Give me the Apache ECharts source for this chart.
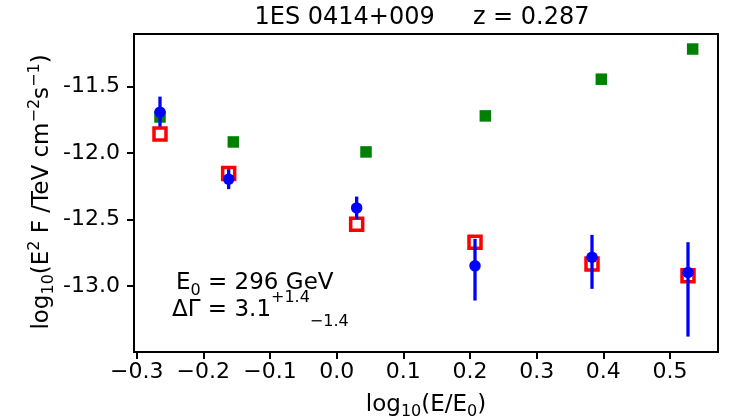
<!DOCTYPE html>
<html>
<head>
<meta charset="utf-8">
<script src="https://cdn.jsdelivr.net/npm/echarts@6/dist/echarts.min.js"></script>
<style>html,body{margin:0;padding:0;background:#fff}#c{width:729px;height:418px}</style>
</head>
<body>
<div id="c"></div>
<script>
// ---- data ----
var xTicks = [-0.3, -0.2, -0.1, 0.0, 0.1, 0.2, 0.3, 0.4, 0.5];
var yTicks = [-13.0, -12.5, -12.0, -11.5];
var blueX = [-0.265, -0.162, 0.030, 0.2075, 0.383, 0.527];
var blueY = [-11.692, -12.196, -12.412, -12.848, -12.783, -12.898];
var blueErrUp = [0.117, 0.075, 0.085, 0.203, 0.168, 0.228];
var blueErrDown = [0.108, 0.075, 0.085, 0.261, 0.238, 0.482];
var redX = [-0.265, -0.162, 0.030, 0.2075, 0.383, 0.527];
var redY = [-11.856, -12.154, -12.536, -12.670, -12.835, -12.923];
var greenX = [-0.265, -0.155, 0.044, 0.223, 0.397, 0.534];
var greenY = [-11.728, -11.916, -11.991, -11.720, -11.444, -11.217];

var FONT = 'DejaVu Sans';
function zip(a, b) { return a.map(function (v, i) { return [v, b[i]]; }); }
var errData = blueX.map(function (x, i) { return [x, blueY[i] - blueErrDown[i], blueY[i] + blueErrUp[i]]; });

var chart = echarts.init(document.getElementById('c'), null, { renderer: 'canvas' });
function rich(fs, lh, sfs, supLh, subLh) {
  return {
    m: { fontFamily: FONT, fontSize: fs, lineHeight: lh, verticalAlign: 'middle', color: '#000' },
    sub: { fontFamily: FONT, fontSize: sfs, lineHeight: subLh || sfs, verticalAlign: 'bottom', color: '#000' },
    sup: { fontFamily: FONT, fontSize: sfs, lineHeight: supLh || sfs, verticalAlign: 'top', color: '#000' }
  };
}
chart.setOption({
  animation: false,
  backgroundColor: '#fff',
  grid: { left: 134, top: 34, right: 11, bottom: 66, show: true, borderColor: '#000', borderWidth: 2, backgroundColor: 'transparent' },
  xAxis: {
    type: 'value', min: -0.304, max: 0.572,
    splitLine: { show: false },
    axisLine: { show: true, onZero: false, lineStyle: { color: '#000', width: 2 } },
    axisTick: { show: true, inside: false, length: 7, lineStyle: { color: '#000', width: 2 }, customValues: xTicks },
    axisLabel: {
      customValues: xTicks, margin: 9, color: '#000', fontFamily: FONT, fontSize: 22,
      formatter: function (v) { return v.toFixed(1).replace('-', '\u2212'); }
    }
  },
  yAxis: {
    type: 'value', min: -13.496, max: -11.104,
    splitLine: { show: false },
    axisLine: { show: true, onZero: false, lineStyle: { color: '#000', width: 2 } },
    axisTick: { show: true, inside: false, length: 7, lineStyle: { color: '#000', width: 2 }, customValues: yTicks },
    axisLabel: {
      customValues: yTicks, margin: 14, color: '#000', fontFamily: FONT, fontSize: 22,
      formatter: function (v) { return v.toFixed(1); }
    }
  },
  series: [
    {
      type: 'scatter', name: 'green', data: zip(greenX, greenY), symbol: 'rect', symbolSize: 11.5,
      itemStyle: { color: '#008000', opacity: 1 }, z: 2
    },
    {
      type: 'scatter', name: 'red', data: zip(redX, redY), symbol: 'rect', symbolSize: 12,
      itemStyle: { color: 'rgba(0,0,0,0)', borderColor: '#ff0000', borderWidth: 3.5, opacity: 1 }, z: 3
    },
    {
      type: 'custom', name: 'err', data: errData, z: 4,
      renderItem: function (params, api) {
        var p1 = api.coord([api.value(0), api.value(1)]);
        var p2 = api.coord([api.value(0), api.value(2)]);
        return { type: 'line', shape: { x1: p1[0], y1: p1[1], x2: p2[0], y2: p2[1] }, style: { stroke: '#0000ff', lineWidth: 3.3 } };
      }
    },
    {
      type: 'scatter', name: 'blue', data: zip(blueX, blueY), symbol: 'circle', symbolSize: 11.5,
      itemStyle: { color: '#0000ff', opacity: 1 }, z: 5
    }
  ],
  graphic: [
    { type: 'text', x: 422, y: 18, style: { text: '1ES 0414+009     z = 0.287', fontFamily: FONT, fontSize: 24, fill: '#000', align: 'center', verticalAlign: 'middle' } },
    {
      type: 'text', x: 176, y: 267,
      style: { text: '{m|E}{sub|0}{m| = 296 GeV}', rich: rich(23, 32, 16, 16, 18) }
    },
    {
      type: 'text', x: 172, y: 290,
      style: { text: '{m|ΔΓ = 3.1}{sup|+1.4}{sub|\u22121.4}', rich: rich(23, 40, 16, 8, 31) }
    },
    {
      type: 'text', x: 426, y: 405,
      style: { text: '{m|log}{sub|10}{m|(E/E}{sub|0}{m|)}', rich: rich(23, 30, 16), align: 'center', verticalAlign: 'middle' }
    },
    {
      type: 'text', x: 42, y: 192, rotation: Math.PI / 2,
      style: { text: '{m|log}{sub|10}{m|(E}{sup|2}{m| F /TeV cm}{sup|\u22122}{m|s}{sup|\u22121}{m|)}', rich: rich(23, 30, 16), align: 'center', verticalAlign: 'middle' }
    }
  ]
});
</script>
</body>
</html>
